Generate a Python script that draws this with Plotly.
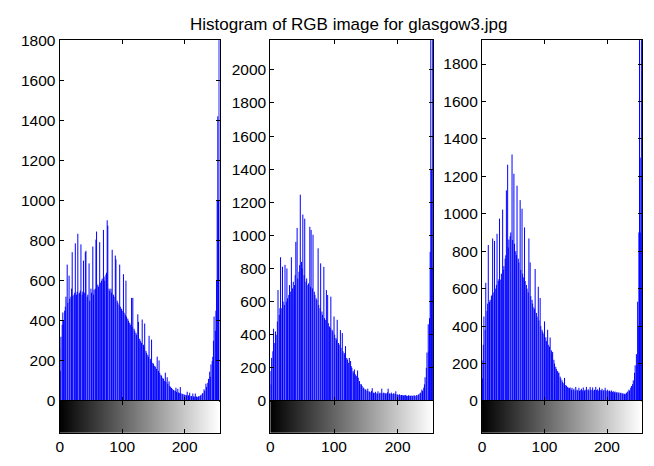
import plotly.graph_objects as go

# gray levels 0..255
levels = list(range(256))

red_counts = [
    265, 150, 320, 0, 380, 441, 402, 0, 450, 470, 520, 0, 680, 490, 0, 625,
    510, 0, 520, 560, 742, 525, 0, 530, 540, 786, 0, 530, 545, 834, 0, 535,
    540, 550, 781, 0, 530, 545, 700, 0, 540, 742, 749, 0, 520, 530, 0, 686,
    500, 0, 560, 540, 0, 770, 530, 555, 0, 560, 805, 845, 0, 580, 570, 0,
    792, 590, 0, 600, 610, 0, 853, 620, 600, 0, 630, 640, 901, 874, 0, 560,
    550, 0, 560, 540, 754, 0, 530, 520, 0, 725, 706, 0, 500, 490, 0, 480,
    680, 470, 0, 460, 450, 0, 632, 440, 0, 430, 600, 420, 0, 410, 400, 0,
    390, 380, 0, 514, 370, 514, 0, 360, 350, 0, 340, 330, 0, 432, 394, 0,
    310, 300, 0, 290, 406, 0, 280, 270, 386, 0, 250, 240, 0, 230, 220, 325,
    0, 210, 200, 306, 0, 190, 185, 0, 175, 170, 0, 160, 221, 0, 150, 202,
    140, 0, 130, 125, 0, 115, 110, 0, 100, 141, 95, 0, 118, 85, 0, 98,
    75, 70, 0, 65, 60, 0, 55, 52, 0, 50, 66, 45, 0, 60, 42, 0,
    40, 69, 38, 0, 35, 34, 0, 32, 30, 0, 30, 28, 46, 0, 28, 26,
    41, 0, 25, 24, 0, 37, 22, 0, 22, 37, 0, 22, 20, 0, 22, 24,
    0, 26, 30, 0, 35, 40, 0, 58, 50, 0, 86, 70, 0, 90, 110, 0,
    146, 120, 182, 0, 200, 220, 300, 421, 0, 350, 450, 600, 1000, 1420, 1000, 1800,
]

green_counts = [
    180, 100, 260, 0, 300, 436, 350, 0, 420, 400, 0, 480, 670, 0, 520, 560,
    868, 0, 560, 811, 600, 0, 580, 822, 0, 600, 800, 620, 0, 640, 700, 0,
    660, 868, 0, 680, 720, 0, 700, 760, 961, 0, 1045, 740, 0, 780, 820, 1246,
    0, 840, 800, 1126, 0, 760, 1101, 0, 720, 740, 0, 700, 710, 0, 1052, 690,
    1033, 0, 680, 1004, 0, 660, 640, 0, 620, 610, 0, 922, 580, 0, 560, 831,
    0, 540, 520, 0, 810, 500, 0, 490, 670, 0, 640, 470, 0, 450, 440, 630,
    0, 430, 420, 0, 510, 400, 0, 380, 370, 490, 0, 350, 340, 0, 428, 320,
    0, 410, 300, 0, 290, 280, 331, 0, 260, 250, 0, 230, 260, 0, 241, 210,
    200, 0, 180, 170, 190, 0, 160, 150, 0, 184, 140, 0, 120, 103, 0, 100,
    90, 0, 81, 75, 0, 70, 68, 0, 60, 74, 0, 58, 55, 0, 52, 60,
    77, 0, 50, 48, 0, 55, 46, 0, 45, 58, 0, 44, 50, 0, 48, 74,
    0, 46, 50, 0, 48, 44, 0, 46, 52, 74, 0, 45, 44, 0, 50, 42,
    0, 44, 46, 0, 42, 58, 0, 40, 38, 0, 36, 40, 0, 34, 36, 0,
    35, 33, 0, 34, 36, 0, 32, 30, 0, 34, 32, 0, 30, 33, 0, 30,
    32, 0, 34, 30, 0, 32, 36, 0, 34, 40, 0, 45, 50, 0, 68, 60,
    0, 80, 100, 143, 0, 200, 292, 0, 463, 300, 500, 900, 2180, 1400, 800, 2180,
]

blue_counts = [
    216, 120, 300, 451, 0, 380, 631, 0, 480, 520, 833, 0, 530, 540, 0, 560,
    567, 868, 0, 580, 855, 0, 600, 620, 893, 0, 640, 650, 974, 0, 648, 680,
    0, 1022, 700, 720, 0, 760, 778, 1125, 0, 1262, 820, 862, 0, 880, 900, 0,
    1317, 860, 0, 1214, 840, 0, 800, 780, 1150, 0, 760, 740, 0, 1073, 700, 0,
    1027, 680, 660, 0, 927, 640, 0, 620, 600, 0, 580, 868, 0, 740, 560, 0,
    540, 520, 0, 500, 490, 705, 0, 470, 450, 0, 610, 430, 0, 550, 400, 0,
    380, 370, 0, 360, 425, 0, 340, 320, 0, 380, 300, 0, 290, 339, 0, 270,
    250, 262, 0, 220, 200, 0, 182, 170, 0, 160, 150, 151, 0, 130, 120, 0,
    110, 100, 0, 95, 123, 0, 85, 80, 0, 75, 70, 0, 68, 72, 0, 60,
    70, 0, 58, 65, 0, 55, 75, 0, 60, 56, 0, 70, 54, 0, 58, 65,
    0, 56, 72, 0, 55, 60, 0, 75, 58, 0, 62, 56, 0, 74, 60, 0,
    58, 72, 0, 56, 60, 0, 75, 58, 0, 62, 55, 0, 72, 58, 0, 56,
    65, 0, 55, 58, 0, 70, 56, 0, 54, 60, 0, 52, 55, 0, 50, 56,
    0, 48, 52, 0, 46, 50, 0, 44, 48, 0, 42, 46, 0, 40, 44, 0,
    42, 38, 0, 40, 36, 0, 38, 44, 0, 50, 0, 60, 55, 0, 70, 80,
    0, 90, 110, 0, 150, 190, 0, 250, 190, 530, 400, 900, 1928, 1300, 900, 1928,
]

channels = [red_counts, green_counts, blue_counts]
y_max = [1800, 2180, 1928]
y_ticks = [list(range(0, 1801, 200)), list(range(0, 2001, 200)), list(range(0, 1801, 200))]

# the page body keeps its default 8px margin, so the figure is made
# 16px smaller and all window positions are shifted by that margin
PAD = 8
W, H = 654 - 2 * PAD, 466 - 2 * PAD
x_pix = [(56, 217), (268, 432), (481, 642)]
top, mid, bot = 32, 407, 440


def px(v):
    return (v - PAD) / W


def py(v):
    return 1 - (v - PAD) / H


fig = go.Figure()
font = dict(family="Liberation Sans, Arial, sans-serif", size=15.5, color="black")
axis_common = dict(showline=True, linecolor="black", linewidth=1.2, mirror="ticks",
                   ticks="inside", ticklen=4, tickcolor="black", tickwidth=1,
                   showgrid=False, zeroline=False, tickfont=font)

layout = {}
for i, counts in enumerate(channels):
    hx, hy = f"x{2*i+1}", f"y{2*i+1}"
    cx, cy = f"x{2*i+2}", f"y{2*i+2}"
    # stem-style vertical lines, one per gray level
    sx, sy = [], []
    for lv, c in zip(levels, counts):
        sx += [lv, lv, None]
        sy += [0, c, None]
    fig.add_trace(go.Scatter(x=sx, y=sy, mode="lines", line=dict(color="#0000ff", width=1),
                             xaxis=hx, yaxis=hy, showlegend=False, hoverinfo="skip"))
    fig.add_trace(go.Heatmap(z=[levels], x=levels, y=[0], colorscale=[[0, "black"], [1, "white"]],
                             showscale=False, xaxis=cx, yaxis=cy))
    x0, x1 = x_pix[i]
    dom = [px(x0), px(x1)]
    layout[f"xaxis{2*i+1}"] = dict(axis_common, domain=dom, range=[0, 256], tickvals=[0, 100, 200],
                                   showticklabels=False, anchor=hy)
    layout[f"yaxis{2*i+1}"] = dict(axis_common, domain=[py(mid), py(top)], range=[0, y_max[i]],
                                   tickvals=y_ticks[i], anchor=hx)
    layout[f"xaxis{2*i+2}"] = dict(axis_common, domain=dom, range=[0, 256], tickvals=[0, 100, 200],
                                   anchor=cy)
    layout[f"yaxis{2*i+2}"] = dict(axis_common, domain=[py(bot), py(mid)], range=[-0.5, 0.5],
                                   tickvals=[], anchor=cx)

fig.update_layout(**layout)
fig.update_layout(
    width=W, height=H, margin=dict(l=0, r=0, t=0, b=0),
    paper_bgcolor="white", plot_bgcolor="white", font=font,
    annotations=[dict(text="Histogram of RGB image for glasgow3.jpg", x=px(347), y=py(16),
                      xref="paper", yref="paper", showarrow=False, xanchor="center",
                      yanchor="middle", font=dict(font, size=17))],
)

fig.write_html("out.html")
